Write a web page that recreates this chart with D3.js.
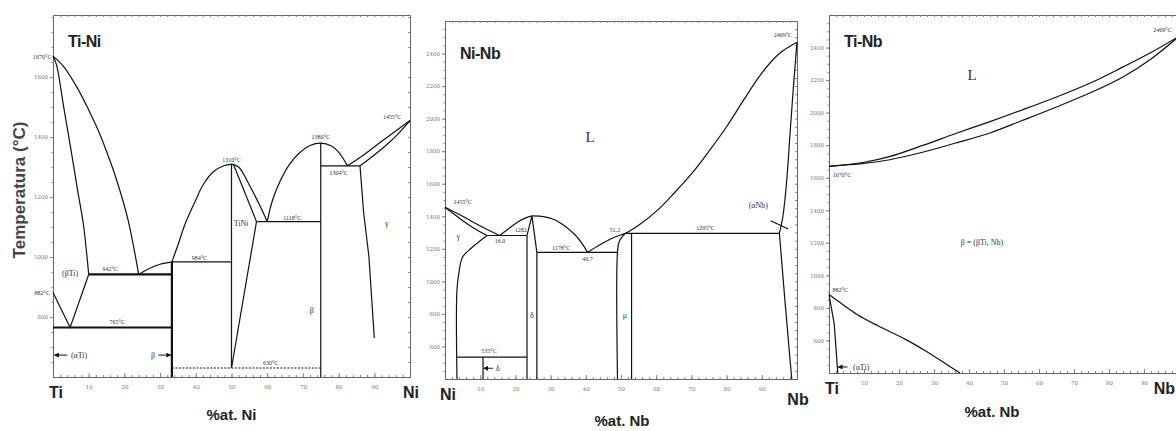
<!DOCTYPE html>
<html>
<head>
<meta charset="utf-8">
<script src="https://cdn.jsdelivr.net/npm/d3@7"></script>
<style>
	body { margin: 0; background: #fff; }
	svg { display: block; }
	.axis .domain { stroke: #666; stroke-width: 1; }
	.axis line { stroke: #888; }
	.axis text { font-family: "DejaVu Serif", serif; font-size: 5.5px; fill: #777; }
	.phase { fill: none; stroke: #111; stroke-width: 1.2; }
	.temp { font-family: "Liberation Serif", serif; font-size: 6px; fill: #333; }
	.name { font-family: "Liberation Serif", serif; font-size: 8px; fill: #333; }
	.big { font-family: "Liberation Sans", Arial, sans-serif; font-weight: bold; fill: #222; }
</style>
</head>
<body>
<script>
// ===== Ti-Ni (x = %at. Ni, y = °C) =====
var tiNiTicksX = [10, 20, 30, 40, 50, 60, 70, 80, 90];
var tiNiTicksY = [800, 1000, 1200, 1400, 1600];

// curved boundaries
var tiNiLiquidusTi = [[0,1670],[3,1635],[7,1560],[10,1490],[13,1413],[16,1320],[18,1250],[21,1125],[24,942]];
var tiNiSolidusTi = [[0,1670],[1,1640],[3,1500],[5,1360],[7,1215],[8.5,1110],[10,942]];
var tiNiLiquidusTi2Ni = [[24,942],[27,962],[30,976],[33.3,984]];
var tiNiLiquidusTiNiL = [[33.3,984],[35,1040],[37,1110],[40,1190],[42,1240],[45,1285],[48,1305],[50,1310]];
var tiNiLiquidusTiNiR = [[50,1310],[52,1300],[55,1240],[58,1170],[60,1118]];
var tiNiLiquidusTiNi3 = [[60,1118],[61.5,1190],[63.5,1250],[66,1305],[69,1347],[72,1372],[75,1380],[78,1370],[80,1350],[82.5,1304]];
var tiNiLiquidusNi = [[82.5,1304],[87,1340],[92,1385],[96,1420],[100,1455]];
var tiNiSolidusNi = [[86,1304],[90,1340],[94,1380],[97,1415],[100,1455]];

// straight boundaries
var tiNiLines = [
	[[0,882],[4.8,765],[10,942]],
	[[33.3,984],[50,984]],
	[[50,1310],[50,630]],
	[[50.5,1310],[57,1118]],
	[[50,630],[57,1118]],
	[[57,1118],[75,1118]],
	[[75,1380],[75,600]],
	[[75,1304],[86,1304]],
	[[86,1304],[87,1150],[88.5,1000],[90,730]]
];
var tiNiBoldLines = [
	[[10,942],[33.3,942]],
	[[0,765],[33.3,765]],
	[[33.3,984],[33.3,600]]
];
var tiNiDashed = [[[33.3,630],[75,630]]];

var tiNiTemps = [
	['1670°C', -3, 1667], ['882°C', -3, 882], ['1310°C', 50, 1323], ['1380°C', 75, 1400],
	['1455°C', 95, 1467], ['1304°C', 80, 1280], ['1118°C', 67, 1130], ['984°C', 41, 997],
	['942°C', 16, 960], ['765°C', 18, 783], ['630°C', 61, 647]
];
var tiNiNames = [['(βTi)', 4.8, 947], ['TiNi', 52.7, 1113], ['γ', 93.5, 1113], ['β', 72.5, 823],
	['(αTi)', 7.3, 673], ['β', 28, 673]];
var tiNiArrows = [[[4, 673], [0.4, 673]], [[29.5, 673], [33, 673]]];

// ===== Ni-Nb (x = %at. Nb) =====
var niNbTicksX = [10, 20, 30, 40, 50, 60, 70, 80, 90];
var niNbTicksY = [600, 800, 1000, 1200, 1400, 1600, 1800, 2000, 2200, 2400];

var niNbLiquidusNi = [[0,1455],[5,1400],[10,1340],[15.5,1282]];
var niNbSolidusNi = [[0,1455],[4,1390],[8,1330],[12,1282]];
var niNbLiquidusNi3NbL = [[15.5,1282],[18,1322],[21,1370],[23.5,1395],[25,1402]];
var niNbLiquidusNi3NbR = [[25,1402],[28,1398],[31,1380],[34,1340],[37,1285],[39,1230],[40.5,1178]];
var niNbLiquidusNb = [[40.5,1178],[44,1225],[48,1270],[51.2,1295],[55,1345],[60,1430],[65,1540],[70,1660],[75,1800],[80,1950],[85,2120],[90,2280],[95,2400],[100,2469]];
var niNbSolvusNi = [[12,1282],[10,1250],[7.5,1205],[5,1150],[4,1060],[3.4,950],[3.4,400]];
var niNbSolidusNb = [[100,2469],[99,2200],[98,1900],[97,1600],[96,1400],[95,1295]];
var niNbMuLeft = [[49,400],[49,1178],[49.5,1245],[51.2,1295]];

var niNbLines = [
	[[12,1282],[23.3,1282]],
	[[23.3,1282],[23.3,400]],
	[[23.3,1282],[24.7,1402],[26.1,1178],[26.1,400]],
	[[26.1,1178],[49,1178]],
	[[53,1295],[53,400]],
	[[51.2,1295],[95,1295]],
	[[95,1295],[96.5,900],[98.5,400]],
	[[3.4,535],[23.3,535]],
	[[10.8,535],[10.8,400]],
	[[92.5,1372],[97.5,1322]]
];

var niNbTemps = [
	['1455°C', 5, 1486], ['16.0', 15.6, 1250], ['1282', 21.5, 1314], ['1178°C', 33, 1207],
	['40.7', 40.5, 1140], ['51.2', 48.3, 1314], ['1295°C', 74, 1326], ['535°C', 12.5, 570],
	['2469°C', 96, 2515]
];
var niNbNames = [['L', 41.2, 1886], ['γ', 3.8, 1275], ['δ', 24.7, 790], ['μ', 51.1, 790],
	['(αNb)', 89, 1470], ['δ', 15, 466]];
var niNbArrows = [[[13.6, 466], [11, 466]]];

// ===== Ti-Nb (x = %at. Nb) =====
var tiNbTicksX = [10, 20, 30, 40, 50, 60, 70, 80, 90];
var tiNbTicksY = [600, 800, 1000, 1200, 1400, 1600, 1800, 2000, 2200, 2400];

var tiNbLiquidus = [[0,1670],[10,1695],[17,1728],[27,1800],[36,1870],[46,1945],[55,2015],[65,2096],[75,2185],[84,2281],[92,2370],[100,2469]];
var tiNbSolidus = [[0,1670],[10,1688],[17,1709],[27,1758],[36,1812],[46,1875],[55,1950],[65,2035],[75,2125],[84,2219],[92,2330],[100,2469]];
var tiNbTransus = [[0,882],[4,820],[8,760],[14,690],[22,605],[28,530],[32,475],[37.4,400]];
var tiNbLines = [[[0,882],[1.5,700],[2.5,400]]];

var tiNbTemps = [['1670°C', 3.7, 1617], ['882°C', 3.2, 910], ['2469°C', 95.3, 2508]];
var tiNbNames = [['L', 40.9, 2231], ['β = (βTi, Nb)', 43.7, 1205], ['(αTi)', 9.2, 437]];
var tiNbArrows = [[[5.3, 437], [2.6, 437]]];

// Draw one phase diagram
function drawPanel(svg, p) {
	var x = d3.scaleLinear().domain([0, 100]).range([p.left, p.right]),
		y = d3.scaleLinear().domain(p.tDomain).range([p.bottom, p.top]),
		minorT = d3.range(p.tDomain[0] + 50, p.tDomain[1], 50),
		g = svg.append('g');

	// frame with ticks on all sides
	g.append('g').attr('class', 'axis').attr('transform', 'translate(0,' + p.bottom + ')')
		.call(d3.axisBottom(x).tickValues(p.ticksX).tickSize(-4).tickSizeOuter(0).tickPadding(8).tickFormat(d3.format('d')));
	g.append('g').attr('class', 'axis').attr('transform', 'translate(0,' + p.bottom + ')')
		.call(d3.axisBottom(x).tickValues(d3.range(2, 100, 2)).tickSize(-2).tickSizeOuter(0).tickFormat(''));
	g.append('g').attr('class', 'axis').attr('transform', 'translate(0,' + p.top + ')')
		.call(d3.axisTop(x).tickValues(d3.range(2, 100, 2)).tickSize(-2).tickSizeOuter(0).tickFormat(''));
	g.append('g').attr('class', 'axis').attr('transform', 'translate(' + p.left + ',0)')
		.call(d3.axisLeft(y).tickValues(p.ticksY).tickSize(3).tickSizeOuter(0).tickPadding(2).tickFormat(d3.format('d')));
	g.append('g').attr('class', 'axis').attr('transform', 'translate(' + p.left + ',0)')
		.call(d3.axisLeft(y).tickValues(minorT).tickSize(1.5).tickSizeOuter(0).tickFormat(''));
	g.append('g').attr('class', 'axis').attr('transform', 'translate(' + p.right + ',0)')
		.call(d3.axisRight(y).tickValues(minorT).tickSize(-2).tickSizeOuter(0).tickFormat(''));

	var smooth = d3.line().x(function(d) { return x(d[0]); }).y(function(d) { return y(d[1]); })
			.curve(d3.curveCatmullRom.alpha(0.5)),
		straight = d3.line().x(function(d) { return x(d[0]); }).y(function(d) { return y(d[1]); });

	g.selectAll('path.curve').data(p.curves).enter().append('path')
		.attr('class', 'phase curve').attr('d', smooth);
	g.selectAll('path.line').data(p.lines).enter().append('path')
		.attr('class', 'phase line').attr('d', straight);
	g.selectAll('path.bold').data(p.bold || []).enter().append('path')
		.attr('class', 'phase bold').attr('d', straight).style('stroke-width', 2.2);
	g.selectAll('path.dash').data(p.dashed || []).enter().append('path')
		.attr('class', 'phase dash').attr('d', straight).style('stroke-dasharray', '2,1.5');
	g.selectAll('path.arrow').data(p.arrows || []).enter().append('path')
		.attr('class', 'phase arrow').attr('d', straight).style('stroke-width', 1)
		.attr('marker-end', 'url(#head)');

	// temperatures
	g.selectAll('text.temp').data(p.temps).enter().append('text')
		.attr('class', 'temp').attr('text-anchor', 'middle').attr('dy', '0.35em')
		.attr('x', function(d) { return x(d[1]); })
		.attr('y', function(d) { return y(d[2]); })
		.text(function(d) { return d[0]; });

	// phase names
	g.selectAll('text.name').data(p.names).enter().append('text')
		.attr('class', 'name').attr('text-anchor', 'middle').attr('dy', '0.35em')
		.attr('x', function(d) { return x(d[1]); })
		.attr('y', function(d) { return y(d[2]); })
		.style('font-size', function(d) { return d[0] === 'L' ? '15px' : null; })
		.text(function(d) { return d[0]; });

	// title and axis words
	g.append('text').attr('class', 'big').attr('x', p.left + 15).attr('y', p.top + p.titleDy)
		.style('font-size', '16px').style('letter-spacing', '-0.5px').text(p.title);
	g.append('text').attr('class', 'big').attr('text-anchor', 'middle')
		.attr('x', x(0) + 3).attr('y', p.bottom + 21).style('font-size', '16px').text(p.from);
	g.append('text').attr('class', 'big').attr('text-anchor', p.toAnchor || 'middle')
		.attr('x', Math.min(x(100) + 1, 1175)).attr('y', p.bottom + p.toDy).style('font-size', '16px').text(p.to);
	g.append('text').attr('class', 'big').attr('text-anchor', 'middle')
		.attr('x', x(50) + p.labelDx).attr('y', p.bottom + p.labelDy).style('font-size', '15px').text(p.xLabel);
}

function ready() {
	var svg = d3.select('body').append('svg').attr('width', 1176).attr('height', 431);

	svg.append('defs').append('marker').attr('id', 'head')
		.attr('viewBox', '0 0 10 10').attr('refX', 9).attr('refY', 5)
		.attr('markerWidth', 5).attr('markerHeight', 5).attr('orient', 'auto')
		.append('path').attr('d', 'M0,0L10,5L0,10z').attr('fill', '#111');

	drawPanel(svg, {
		left: 53, right: 410, top: 15, bottom: 377, tDomain: [600, 1807],
		ticksX: tiNiTicksX, ticksY: tiNiTicksY,
		curves: [tiNiLiquidusTi, tiNiSolidusTi, tiNiLiquidusTi2Ni, tiNiLiquidusTiNiL, tiNiLiquidusTiNiR,
			tiNiLiquidusTiNi3, tiNiLiquidusNi, tiNiSolidusNi],
		lines: tiNiLines, bold: tiNiBoldLines, dashed: tiNiDashed, arrows: tiNiArrows,
		temps: tiNiTemps, names: tiNiNames,
		title: 'Ti-Ni', titleDy: 32, from: 'Ti', to: 'Ni', toDy: 21,
		xLabel: '%at. Ni', labelDx: 0, labelDy: 43
	});

	drawPanel(svg, {
		left: 445, right: 797, top: 21, bottom: 379, tDomain: [400, 2600],
		ticksX: niNbTicksX, ticksY: niNbTicksY,
		curves: [niNbLiquidusNi, niNbSolidusNi, niNbLiquidusNi3NbL, niNbLiquidusNi3NbR, niNbLiquidusNb,
			niNbSolvusNi, niNbSolidusNb, niNbMuLeft],
		lines: niNbLines, arrows: niNbArrows,
		temps: niNbTemps, names: niNbNames,
		title: 'Ni-Nb', titleDy: 38, from: 'Ni', to: 'Nb', toDy: 26,
		xLabel: '%at. Nb', labelDx: 1, labelDy: 47
	});

	drawPanel(svg, {
		left: 829, right: 1179, top: 15, bottom: 373, tDomain: [400, 2600],
		ticksX: tiNbTicksX, ticksY: tiNbTicksY,
		curves: [tiNbLiquidus, tiNbSolidus, tiNbTransus],
		lines: tiNbLines, arrows: tiNbArrows,
		temps: tiNbTemps, names: tiNbNames,
		title: 'Ti-Nb', titleDy: 32, from: 'Ti', to: 'Nb', toDy: 21, toAnchor: 'end',
		xLabel: '%at. Nb', labelDx: -12, labelDy: 44
	});

	// shared temperature title
	svg.append('text').attr('class', 'big').attr('text-anchor', 'middle')
		.attr('transform', 'translate(25,190) rotate(-90)')
		.style('font-size', '17px').style('fill', '#444')
		.text('Temperatura (°C)');
}

window.onload = function() {
	ready();
};
</script>
</body>
</html>
